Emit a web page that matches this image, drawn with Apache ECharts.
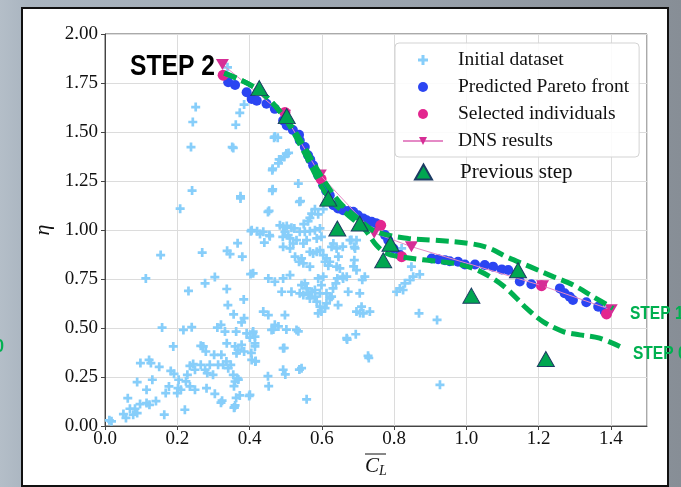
<!DOCTYPE html>
<html>
<head>
<meta charset="utf-8">
<script src="https://cdn.jsdelivr.net/npm/echarts@6/dist/echarts.min.js"></script>
<style>
html,body{margin:0;padding:0;width:681px;height:487px;overflow:hidden;
 background:linear-gradient(to right,#b4bec8 0%,#aab5c0 4%,#9aa3ad 60%,#878e96 100%);}
#frame{position:absolute;left:21px;top:7px;width:648px;height:480px;box-sizing:border-box;border:2px solid #111;background:#fff;}
#chart{position:absolute;left:0;top:0;width:681px;height:487px;}
</style>
</head>
<body>
<div id="frame"></div>
<div id="chart"></div>
<script>
const initialData = [
[0.251,1.627],[0.243,1.551],[0.238,1.423],[0.352,1.423],[0.362,1.537],[0.373,1.598],[0.385,1.640],[0.339,1.83],
[0.241,1.201],[0.208,1.109],[0.375,1.172],[0.154,0.872],[0.269,0.885],[0.338,0.894],[0.346,0.877],[0.367,0.933],
[0.380,0.864],[0.404,0.994],[0.421,0.994],[0.429,0.979],[0.441,0.936],[0.456,0.968],[0.454,1.098],[0.464,1.208],
[0.464,1.313],[0.470,1.477],[0.482,1.360],[0.468,1.471],[0.478,1.471],[0.487,1.36],[0.496,1.373],[0.502,1.39],
[0.508,1.393],[0.480,1.34],[0.535,1.237],[0.541,1.147],[0.538,1.144],[0.604,1.107],[0.581,1.106],[0.572,1.084],
[0.567,1.062],[0.562,1.045],[0.59,1.08],[0.55,1.03],
[0.406,0.999],[0.438,0.991],[0.455,0.974],[0.484,1.024],[0.493,1.016],[0.503,1.021],[0.516,1.011],[0.524,1.008],
[0.498,0.991],[0.492,0.965],[0.507,0.974],[0.539,0.991],[0.553,0.991],[0.567,0.994],[0.581,0.999],[0.595,1.008],
[0.530,0.948],[0.521,0.931],[0.512,0.957],[0.493,0.914],[0.512,0.906],[0.558,0.948],[0.549,0.931],[0.586,0.957],
[0.599,0.965],[0.678,0.948],[0.696,0.948],[0.692,0.906],[0.632,0.931],[0.627,0.914],[0.641,0.906],[0.567,0.889],
[0.576,0.880],[0.586,0.889],[0.595,0.897],[0.604,0.872],[0.613,0.855],[0.622,0.838],[0.609,0.838],[0.618,0.818],
[0.526,0.864],[0.544,0.855],[0.549,0.830],[0.567,0.813],[0.537,0.838],[0.641,0.813],[0.650,0.804],[0.658,0.762],
[0.690,0.846],[0.696,0.795],[0.690,0.914],[0.719,0.762],[0.410,0.779],[0.452,0.753],[0.470,0.736],[0.493,0.753],
[0.512,0.770],[0.489,0.685],[0.516,0.685],
[0.544,0.719],[0.553,0.728],[0.558,0.702],[0.539,0.677],[0.549,0.668],[0.563,0.677],[0.572,0.685],[0.567,0.651],
[0.581,0.660],[0.599,0.719],[0.590,0.753],[0.604,0.762],[0.581,0.694],[0.595,0.677],[0.613,0.677],[0.622,0.651],
[0.631,0.702],[0.639,0.728],[0.643,0.753],[0.659,0.753],[0.669,0.762],[0.586,0.635],[0.595,0.609],[0.599,0.584],
[0.613,0.626],[0.627,0.660],[0.609,0.601],[0.590,0.575],[0.645,0.617],[0.673,0.685],[0.705,0.677],[0.710,0.609],
[0.696,0.584],[0.715,0.575],[0.733,0.584],[0.669,0.448],[0.694,0.468],[0.728,0.358],[0.493,0.397],[0.544,0.295],
[0.493,0.287],[0.410,0.482],[0.415,0.406],[0.406,0.337],[0.461,0.490],[0.470,0.516],[0.452,0.566],[0.438,0.584],
[0.498,0.566],[0.530,0.490],
[0.113,0.753],[0.231,0.689],[0.277,0.728],[0.304,0.760],[0.337,0.699],[0.340,0.617],[0.356,0.570],[0.384,0.646],
[0.403,0.775],[0.385,0.550],[0.378,0.529],[0.158,0.502],[0.217,0.490],[0.240,0.504],[0.189,0.406],[0.265,0.409],
[0.311,0.502],[0.321,0.516],[0.332,0.482],[0.363,0.482],[0.337,0.422],[0.392,0.473],[0.409,0.473],[0.415,0.456],
[0.401,0.451],[0.360,0.406],[0.369,0.388],[0.378,0.414],[0.385,0.380],[0.364,0.371],[0.415,0.422],[0.416,0.329],
[0.098,0.321],[0.122,0.337],[0.127,0.321],[0.150,0.302],[0.089,0.224],[0.115,0.185],[0.131,0.236],[0.182,0.281],
[0.191,0.266],[0.204,0.236],[0.202,0.193],[0.177,0.202],[0.168,0.168],[0.228,0.261],[0.235,0.307],[0.244,0.316],
[0.249,0.287],[0.224,0.228],[0.235,0.202],[0.249,0.185],[0.210,0.185],[0.200,0.168],[0.265,0.312],[0.277,0.287],
[0.283,0.270],[0.290,0.312],[0.299,0.261],[0.302,0.363],[0.313,0.312],[0.322,0.363],[0.327,0.312],[0.336,0.329],
[0.341,0.295],[0.348,0.312],[0.355,0.261],[0.360,0.227],[0.366,0.244],[0.279,0.380],[0.272,0.406],[0.281,0.193],
[0.304,0.164],[0.324,0.129],[0.360,0.105],[0.373,0.156],[0.401,0.159],[0.358,0.095],[0.063,0.142],[0.069,0.088],
[0.083,0.088],[0.089,0.066],[0.051,0.061],[0.058,0.041],[0.078,0.058],[0.097,0.112],[0.115,0.117],[0.123,0.108],
[0.141,0.127],[0.164,0.058],[0.221,0.083],[0.012,0.029],[0.018,0.024],
[0.538,0.288],[0.558,0.136],[0.499,0.263],[0.496,0.398],[0.535,0.483],[0.502,0.492],[0.480,0.508],[0.466,0.492],
[0.453,0.203],[0.451,0.254],[0.417,0.331],[0.405,0.373],[0.363,0.144],[0.399,0.153],[0.357,0.093],[0.321,0.119],
[0.369,0.237],[0.357,0.203],[0.670,0.441],[0.706,0.576],[0.730,0.347],[0.712,0.746],[0.688,0.814],[0.682,0.949],
[0.658,0.915],[0.646,0.864],
[0.821,0.906],[0.848,0.813],[0.853,0.762],[0.871,0.774],[0.844,0.745],[0.830,0.728],[0.816,0.702],[0.807,0.685],
[0.825,0.694],[0.869,0.575],[0.919,0.541],[0.927,0.210],[0.463,1.305],[0.463,1.2],[0.451,1.092],[0.375,1.161],
[0.355,1.419]
];
const paretoData = [
[0.341,1.754],[0.36,1.74],[0.392,1.703],[0.406,1.669],[0.42,1.66],[0.447,1.644],[0.470,1.618],[0.493,1.559],
[0.503,1.533],[0.52,1.51],[0.537,1.486],[0.539,1.457],[0.553,1.423],[0.562,1.381],[0.568,1.36],[0.576,1.330],
[0.590,1.279],[0.604,1.228],[0.612,1.20],[0.622,1.177],[0.632,1.126],[0.645,1.11],[0.659,1.101],[0.673,1.097],
[0.687,1.093],[0.70,1.075],[0.715,1.059],[0.724,1.050],[0.738,1.042],[0.75,1.035],[0.775,0.974],[0.784,0.948],
[0.798,0.906],[0.816,0.872],[0.904,0.855],[0.922,0.851],[0.941,0.846],[0.954,0.841],[0.977,0.838],[0.996,0.824],
[1.024,0.824],[1.051,0.821],[1.074,0.813],[1.098,0.799],[1.116,0.796],[1.148,0.737],[1.180,0.723],[1.259,0.702],
[1.272,0.677],[1.286,0.660],[1.295,0.643],[1.332,0.631],[1.365,0.609],[1.383,0.584]
];
const selectedData = [[0.327,1.79],[0.498,1.60],[0.598,1.26],[0.763,1.024],[0.821,0.864],[1.208,0.716],[1.388,0.572]];
const dnsData = [[0.325,1.845],[0.497,1.585],[0.596,1.28],[0.745,0.985],[0.848,0.915],[1.211,0.715],[1.401,0.593]];
const previousStepData = [[0.427,1.724],[0.503,1.581],[0.618,1.16],[0.643,1.008],[0.705,1.033],[0.790,0.93],
[0.770,0.845],[1.014,0.665],[1.143,0.795],[1.220,0.342]];
const step1Curve = [[0.33,1.80],[0.42,1.72],[0.50,1.57],[0.55,1.43],[0.60,1.27],[0.65,1.14],[0.70,1.06],[0.74,1.00],
[0.78,0.975],[0.84,0.957],[0.91,0.948],[1.01,0.931],[1.065,0.906],[1.11,0.864],[1.176,0.813],[1.24,0.762],
[1.296,0.719],[1.351,0.66],[1.406,0.60]];
const step0Curve = [[0.33,1.80],[0.42,1.72],[0.49,1.59],[0.55,1.40],[0.60,1.22],[0.63,1.14],[0.67,1.08],[0.72,1.00],
[0.75,0.925],[0.78,0.88],[0.816,0.864],[0.88,0.848],[0.964,0.83],[1.019,0.804],[1.065,0.762],[1.111,0.702],
[1.167,0.60],[1.212,0.533],[1.268,0.482],[1.314,0.465],[1.369,0.448],[1.425,0.406]];
const legendNames = ['Initial dataset','Predicted Pareto front','Selected individuals','DNS results'];
const extraLegend = ['Previous step'];

const serif = 'Liberation Serif';
const plusPath = 'path://M3.5,0H6.5V3.5H10V6.5H6.5V10H3.5V6.5H0V3.5H3.5Z';
const chart = echarts.init(document.getElementById('chart'));
chart.setOption({
  animation:false,
  backgroundColor:'transparent',
  grid:{left:105,right:34,top:34,bottom:61,show:true,borderColor:'#555',borderWidth:1,backgroundColor:'#fff'},
  xAxis:{type:'value',min:0,max:1.5,interval:0.2,
    name:'{c|C}{l|L}',nameLocation:'middle',nameGap:28,
    nameTextStyle:{rich:{c:{fontFamily:serif,fontStyle:'italic',fontSize:21,color:'#111',lineHeight:22,verticalAlign:'top'},
                         l:{fontFamily:serif,fontStyle:'italic',fontSize:14,color:'#111',lineHeight:14,padding:[10,0,0,0],verticalAlign:'bottom'}}},
    axisLine:{show:true,lineStyle:{color:'#444'}},
    axisTick:{show:true,inside:false,length:4,lineStyle:{color:'#444'}},
    axisLabel:{showMaxLabel:false,margin:4,fontFamily:serif,fontSize:19,color:'#111',formatter:v=>v.toFixed(1)},
    splitLine:{show:true,lineStyle:{color:'#dcdcdc',width:1}}},
  yAxis:{type:'value',min:0,max:2,interval:0.25,
    name:'η',nameLocation:'middle',nameGap:46,nameRotate:90,
    nameTextStyle:{fontFamily:serif,fontStyle:'italic',fontSize:22,color:'#111'},
    axisLine:{show:true,lineStyle:{color:'#444'}},
    axisTick:{show:true,inside:false,length:4,lineStyle:{color:'#444'}},
    axisLabel:{margin:7,fontFamily:serif,fontSize:19,color:'#111',formatter:v=>v.toFixed(2)},
    splitLine:{show:true,lineStyle:{color:'#dcdcdc',width:1}}},
  legend:[
    {data:legendNames,orient:'vertical',left:395,top:43,itemWidth:40,itemHeight:10,itemGap:7,
     padding:[7,10,6,7],backgroundColor:'rgba(255,255,255,0.88)',borderColor:'#d3d3d3',borderWidth:1,borderRadius:4,
     textStyle:{fontFamily:serif,fontSize:19.5,color:'#111',lineHeight:20,padding:[0,0,0,10]}},
    {data:extraLegend,orient:'vertical',left:414,top:161,itemWidth:17,itemHeight:15,padding:0,
     textStyle:{fontFamily:serif,fontSize:21,color:'#111',lineHeight:22,padding:[0,0,0,23]}}
  ],
  series:[
    {name:'Initial dataset',type:'scatter',data:initialData,symbol:plusPath,symbolSize:9,
     itemStyle:{color:'#87cefa',opacity:1},z:2},
    {name:'Predicted Pareto front',type:'scatter',data:paretoData,symbol:'circle',symbolSize:10,
     itemStyle:{color:'#2b45f2',opacity:1},z:3},
    {name:'Selected individuals',type:'scatter',data:selectedData,symbol:'circle',symbolSize:11,
     itemStyle:{color:'#e3268f',opacity:1},z:4},
    {name:'DNS results',type:'line',data:dnsData,symbol:'triangle',symbolRotate:180,symbolSize:[13,11],
     lineStyle:{color:'#e58ac6',width:1},itemStyle:{color:'#d62e96'},z:5},
    {name:'STEP 1 front',type:'line',data:step1Curve,smooth:0.35,showSymbol:false,symbol:'none',
     lineStyle:{color:'#00b050',width:5,type:[13,6]},z:6},
    {name:'STEP 0 front',type:'line',data:step0Curve,smooth:0.35,showSymbol:false,symbol:'none',
     lineStyle:{color:'#00b050',width:5,type:[13,6]},z:6},
    {name:'Previous step',type:'scatter',data:previousStepData,symbol:'triangle',symbolSize:[17,15],
     itemStyle:{color:'#00a650',borderColor:'#1c3b63',borderWidth:1,opacity:1},z:7}
  ],
  graphic:[
    {type:'text',left:130,top:52,z:10,scaleX:0.85,style:{text:'STEP 2',font:'bold 29px "Liberation Sans"',fill:'#000'}},
    {type:'text',x:630,y:304,z:10,scaleX:0.84,style:{text:'STEP 1',font:'bold 18.5px "Liberation Sans"',fill:'#00b050'}},
    {type:'text',x:633,y:344,z:10,scaleX:0.84,style:{text:'STEP 0',font:'bold 18.5px "Liberation Sans"',fill:'#00b050'}},
    {type:'text',x:-5,y:337,z:10,scaleX:0.85,style:{text:'0',font:'bold 19px "Liberation Sans"',fill:'#00b050'}},
    {type:'line',z:10,shape:{x1:365,y1:454,x2:386,y2:454},style:{stroke:'#111',lineWidth:1}}
  ]
});
</script>
</body>
</html>
